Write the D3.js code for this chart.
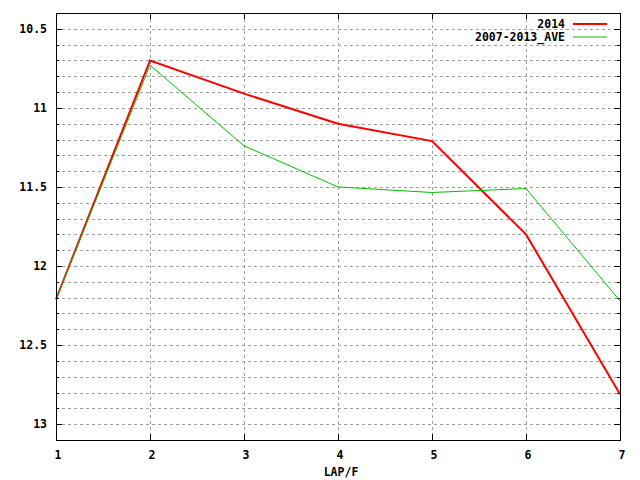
<!DOCTYPE html>
<html>
<head>
<meta charset="utf-8">
<script src="https://cdn.jsdelivr.net/npm/d3@7"></script>
<style>
body { margin:0; background:#fff; }
text { font-family:"DejaVu Sans Mono", monospace; font-weight:bold; font-size:11.5px; fill:#000; }
</style>
</head>
<body>
<div id="chart"></div>
<script>
// data
var laps = [1, 2, 3, 4, 5, 6, 7];
var y2014 = [12.21, 10.70, 10.91, 11.10, 11.21, 11.80, 12.81];
var yAve = [12.21, 10.73, 11.24, 11.50, 11.535, 11.51, 12.22];
var seriesNames = ['2014', '2007-2013_AVE'];
var yMajorTicks = [10.5, 11, 11.5, 12, 12.5, 13];

var svgWidth = 640, svgHeight = 480;
var margin = {top:13, right:20, bottom:40, left:56};
var width = svgWidth - margin.left - margin.right,
    height = svgHeight - margin.top - margin.bottom;

var svg = d3.select('#chart').append('svg')
    .attr('width', svgWidth)
    .attr('height', svgHeight);

var chartGroup = svg.append('g')
    .attr('transform', `translate(${margin.left},${margin.top})`);

var xScale = d3.scaleLinear().domain([1, 7]).range([0, width]);
var yScale = d3.scaleLinear().domain([10.4, 13.1]).range([0, height]);

var minorTicks = d3.range(105, 131).map(d => d / 10);

// grid
chartGroup.append('g').selectAll('line')
    .data(minorTicks)
    .enter().append('line')
    .attr('x1', 0).attr('x2', width)
    .attr('y1', d => Math.round(yScale(d)) + 0.5)
    .attr('y2', d => Math.round(yScale(d)) + 0.5)
    .attr('stroke', '#a0a0a0')
    .attr('stroke-dasharray', '3,3');

chartGroup.append('g').selectAll('line')
    .data(laps.slice(1, -1))
    .enter().append('line')
    .attr('y1', 0).attr('y2', height)
    .attr('x1', d => Math.round(xScale(d)) + 0.5)
    .attr('x2', d => Math.round(xScale(d)) + 0.5)
    .attr('stroke', '#a0a0a0')
    .attr('stroke-dasharray', '3,3');

// tick marks on all sides
var isMajor = d => yMajorTicks.some(m => Math.abs(m - d) < 1e-6);
var ticksG = chartGroup.append('g').attr('stroke', '#000');
minorTicks.forEach(d => {
    var len = isMajor(d) ? 6 : 3;
    var y = Math.round(yScale(d)) + 0.5;
    ticksG.append('line').attr('x1', 0).attr('x2', len).attr('y1', y).attr('y2', y);
    ticksG.append('line').attr('x1', width - len).attr('x2', width).attr('y1', y).attr('y2', y);
});
laps.forEach(d => {
    var x = Math.round(xScale(d)) + 0.5;
    ticksG.append('line').attr('x1', x).attr('x2', x).attr('y1', 0).attr('y2', 6);
    ticksG.append('line').attr('x1', x).attr('x2', x).attr('y1', height - 6).attr('y2', height);
});

// tick labels
chartGroup.append('g').selectAll('text')
    .data(yMajorTicks)
    .enter().append('text')
    .attr('x', -9)
    .attr('y', d => yScale(d) + 4)
    .attr('text-anchor', 'end')
    .text(d => d);

chartGroup.append('g').selectAll('text')
    .data(laps)
    .enter().append('text')
    .attr('x', d => xScale(d) + 2)
    .attr('y', height + 19)
    .attr('text-anchor', 'middle')
    .text(d => d);

chartGroup.append('text')
    .attr('x', width / 2 + 3)
    .attr('y', height + 36)
    .attr('text-anchor', 'middle')
    .text('LAP/F');

// lines
var line = d3.line()
    .x((d, i) => xScale(laps[i]))
    .y(d => yScale(d));

chartGroup.append('path')
    .datum(y2014)
    .attr('d', line)
    .attr('fill', 'none')
    .attr('stroke', '#ff0000')
    .attr('stroke-width', 2);

chartGroup.append('path')
    .datum(yAve)
    .attr('d', line)
    .attr('fill', 'none')
    .attr('stroke', '#00c000')
    .attr('stroke-width', 1);

// border
chartGroup.append('rect')
    .attr('x', 0.5).attr('y', 0.5)
    .attr('width', width).attr('height', height)
    .attr('fill', 'none')
    .attr('stroke', '#000');

// legend
var legendColors = ['#ff0000', '#00c000'];
var legendWidths = [2, 1];
var legend = svg.append('g');
seriesNames.forEach((name, i) => {
    var y = 24 + i * 13;
    legend.append('text')
        .attr('x', 565)
        .attr('y', y + 4)
        .attr('text-anchor', 'end')
        .text(name);
    legend.append('line')
        .attr('x1', 573).attr('x2', 607)
        .attr('y1', y).attr('y2', y)
        .attr('stroke', legendColors[i])
        .attr('stroke-width', legendWidths[i]);
});
</script>
</body>
</html>
